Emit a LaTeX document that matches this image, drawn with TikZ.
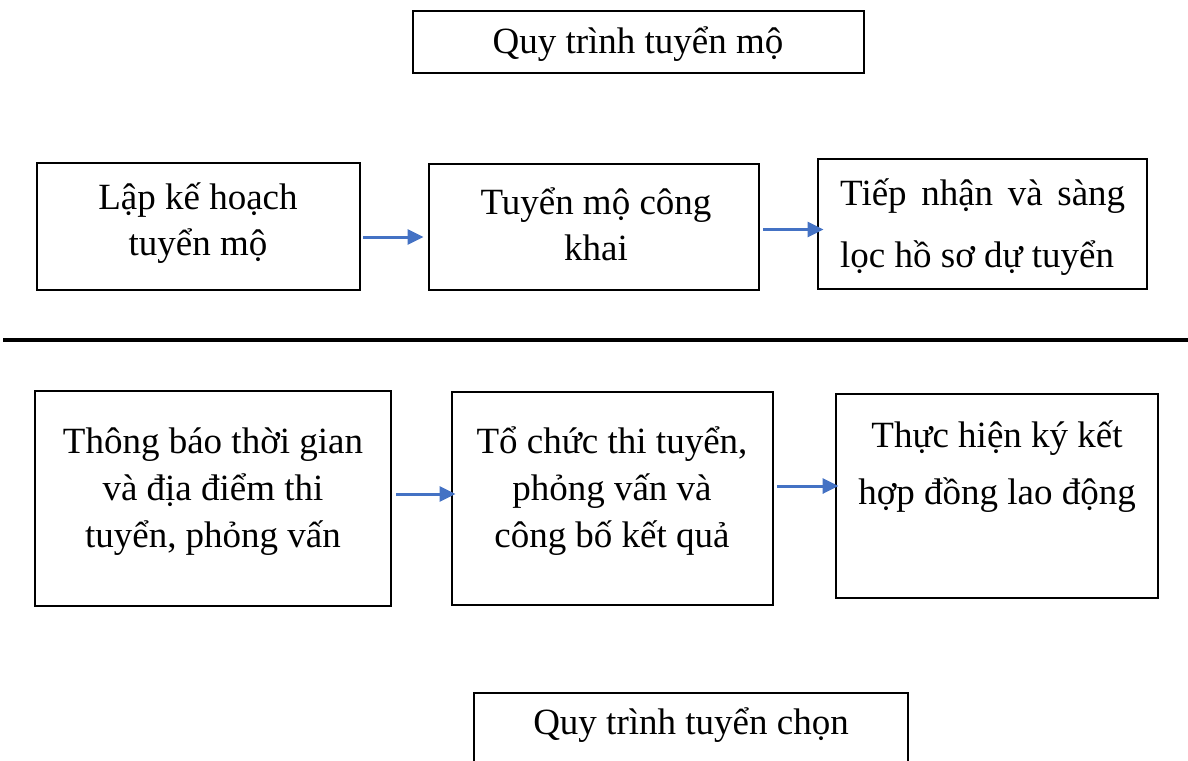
\documentclass[tikz,border=0pt]{standalone}
\usepackage{fontspec}
\setmainfont{Liberation Serif}
\usetikzlibrary{arrows.meta}
\definecolor{arrblue}{HTML}{4472C4}
\tikzset{
  box/.style={draw=black, line width=2.8pt, inner sep=0pt, fill=none},
  txt/.style={inner sep=0pt, font=\fontsize{37}{46}\selectfont},
  arr/.style={draw=arrblue, line width=3pt, -{Triangle[length=16pt,width=15pt]}},
}
\begin{document}
\begin{tikzpicture}[x=1pt,y=-1pt]
\useasboundingbox (0,0) rectangle (1188,760);
% boxes
\node[box, minimum width=451pt, minimum height=62pt] (T1) at (638.5,42) {};
\node[box, minimum width=323pt, minimum height=127pt] (A) at (198.5,226.5) {};
\node[box, minimum width=330pt, minimum height=126pt] (B) at (594,227) {};
\node[box, minimum width=329pt, minimum height=130pt] (C) at (982.5,224) {};
\node[box, minimum width=356pt, minimum height=215pt] (D) at (213,498.5) {};
\node[box, minimum width=321pt, minimum height=213pt] (E) at (612.5,498.5) {};
\node[box, minimum width=322pt, minimum height=204pt] (F) at (997,496) {};
\node[box, minimum width=434pt, minimum height=100pt] (T2) at (691,743) {};
% separator
\coordinate (sepL) at (3,340);
\coordinate (sepR) at (1188,340);
\draw[line width=3.5pt] (sepL) -- (sepR);
% texts
\node[txt] (t1) at (638,44.5) {Quy trình tuyển mộ};
\node[txt, align=center] (ta) at (198,223) {Lập kế hoạch\\tuyển mộ};
\node[txt, align=center] (tb) at (596,224) {Tuyển mộ công\\khai};
\node[txt, align=left, anchor=west, font=\fontsize{37}{62}\selectfont] (tc) at (840,227) {\hbox to 285pt{Tiếp\hfill nhận\hfill và\hfill sàng}\\lọc hồ sơ dự tuyển};
\node[txt, align=center, font=\fontsize{37}{47}\selectfont] (td) at (213,491.5) {Thông báo thời gian\\và địa điểm thi\\tuyển, phỏng vấn};
\node[txt, align=center, font=\fontsize{37}{47}\selectfont] (te) at (612,491.5) {Tổ chức thi tuyển,\\phỏng vấn và\\công bố kết quả};
\node[txt, align=center, font=\fontsize{37}{57}\selectfont] (tf) at (997,467) {Thực hiện ký kết\\hợp đồng lao động};
\node[txt] (t2) at (691,725) {Quy trình tuyển chọn};
% arrows
\coordinate (a1) at ([yshift=-10.5pt]A.east);
\draw[arr, shorten <=2pt, shorten >=4pt] (a1) -- (a1 -| B.west);
\coordinate (a2) at ([yshift=-2.5pt]B.east);
\draw[arr, shorten <=3pt, shorten >=-7pt] (a2) -- (a2 -| C.west);
\coordinate (a3) at ([yshift=4.5pt]D.east);
\draw[arr, shorten <=4pt, shorten >=-5pt] (a3) -- (a3 -| E.west);
\coordinate (a4) at ([yshift=12.5pt]E.east);
\draw[arr, shorten <=3pt, shorten >=-4pt] (a4) -- (a4 -| F.west);
\end{tikzpicture}
\end{document}
